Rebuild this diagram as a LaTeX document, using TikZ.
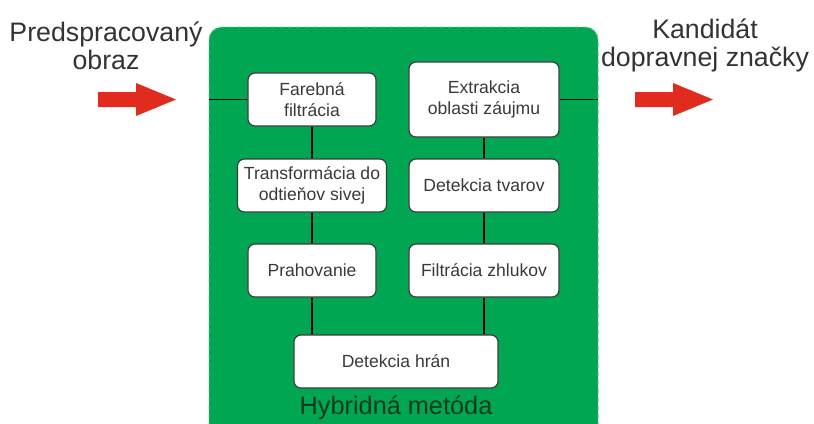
\documentclass[tikz,border=0pt]{standalone}
\usepackage{fontspec}
\setmainfont{Liberation Sans}
\usetikzlibrary{calc, positioning}

\definecolor{zelena}{HTML}{00A651}
\definecolor{zelenaokraj}{HTML}{6CCB8A}
\definecolor{cervena}{HTML}{E02B1E}
\definecolor{sedatext}{HTML}{3A3A3A}
\definecolor{tmavozelena}{HTML}{0E3A1E}

\begin{document}
\begin{tikzpicture}[
    % one unit = one pixel of the reference, y grows downwards
    x={(0.025cm,0cm)},
    y={(0cm,-0.025cm)},
    blok/.style={draw=sedatext, line width=0.8pt, fill=white, rounded corners=5pt,
        align=center, text=sedatext, font=\fontsize{12.5}{14.5}\selectfont,
        minimum height=1.325cm, inner sep=1pt},
    spoj/.style={black, line width=0.9pt},
    nadpis/.style={align=center, text=black!80, font=\fontsize{19}{20}\selectfont}
]
    \useasboundingbox (0,0) rectangle (814,423);

    % --- Green frame of the method ---
    \fill[zelena, rounded corners=9pt] (209,27) rectangle (598,460);
    \draw[zelenaokraj, dashed, line width=0.7pt, rounded corners=9pt] (209,460) -- (209,27) -- (598,27) -- (598,460);
    \node[font=\fontsize{18}{20}\selectfont, text=tmavozelena] (metoda) at (396,408) {Hybridná metóda};

    % --- Processing steps ---
    \node[blok, minimum width=3.2cm] (farba) at (312,99.5) {Farebná\\filtrácia};
    \node[blok, minimum width=3.75cm, minimum height=1.875cm] (extrakcia) at (484,99.5) {Extrakcia\\oblasti záujmu};
    \node[blok, minimum width=3.725cm] (sivy) at (312,185.5) {Transformácia do\\odtieňov sivej};
    \node[blok, minimum width=3.75cm] (tvary) at (484,185.5) {Detekcia tvarov};
    \node[blok, minimum width=3.2cm] (prah) at (312,270.5) {Prahovanie};
    \node[blok, minimum width=3.75cm] (zhluky) at (484,270.5) {Filtrácia zhlukov};
    \node[blok, minimum width=5.1cm] (hrany) at (396,361.5) {Detekcia hrán};

    % --- Connectors ---
    \coordinate (vstup) at (209,99.5);
    \coordinate (vystup) at (598,99.5);
    \draw[spoj] (vstup) -- (farba.west);
    \draw[spoj] (extrakcia.east) -- (vystup);
    \draw[spoj] (farba) -- (sivy);
    \draw[spoj] (sivy) -- (prah);
    \draw[spoj] (prah) -- (prah |- hrany.north);
    \draw[spoj] (extrakcia) -- (tvary);
    \draw[spoj] (tvary) -- (zhluky);
    \draw[spoj] (zhluky) -- (zhluky |- hrany.north);

    % --- Input / output arrows ---
    \foreach \x in {98, 635} {
        \fill[cervena] (\x,92) -- ++(38,0) -- ++(0,-9) -- ++(40,16.5)
            -- ++(-40,16.5) -- ++(0,-9) -- ++(-38,0) -- cycle;
    }

    % --- Texts ---
    \node[nadpis] (vstuptext) at (106,46) {Predspracovaný\\obraz};
    \node[nadpis] (vystuptext) at (705,45) {Kandidát\\dopravnej značky};
\end{tikzpicture}
\end{document}
